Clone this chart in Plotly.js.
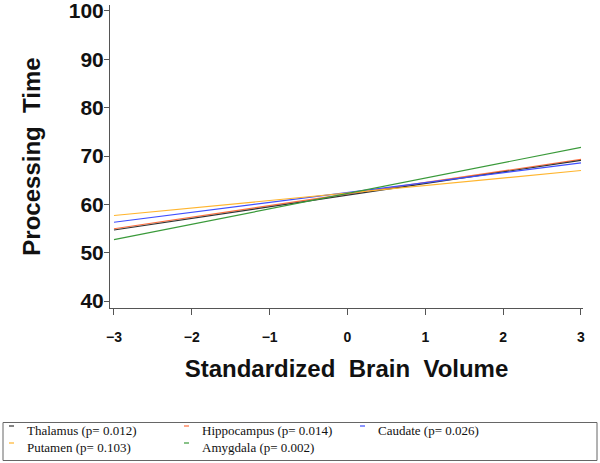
<!DOCTYPE html>
<html><head><meta charset="utf-8">
<script src="https://cdn.plot.ly/plotly-3.0.1.min.js"></script>
<style>html,body{margin:0;padding:0;background:#fff;}#chart{width:600px;height:463px;}</style>
</head><body><div id="chart"></div>
<script>
// ---- data ----
const names = ['Thalamus', 'Hippocampus', 'Caudate', 'Putamen', 'Amygdala'];
const pvals = ['0.012', '0.014', '0.026', '0.103', '0.002'];
const xVolume = [-3, 3];
const thalamus = [54.7, 69.1];
const hippocampus = [54.95, 69.3];
const caudate = [56.3, 68.6];
const putamen = [57.7, 67.0];
const amygdala = [52.7, 71.8];
const xTicks = [-3, -2, -1, 0, 1, 2, 3];
const yTicks = [40, 50, 60, 70, 80, 90, 100];

// ---- styling ----
const colors = ['#333333', '#ff7040', '#3f4fff', '#ffb52e', '#3a9a3a'];
const series = [thalamus, hippocampus, caudate, putamen, amygdala];
const drawOrder = [1, 0, 2, 3, 4];

const W = 600, H = 463;
const M = {l: 110, r: 17, t: 5, b: 155};
const pw = W - M.l - M.r, ph = H - M.t - M.b;
const px = x => (x - M.l) / pw;
const py = y => (H - M.b - y) / ph;

const traces = drawOrder.map(i => ({
  type: 'scatter', mode: 'lines', x: xVolume, y: series[i], name: names[i],
  line: {color: colors[i], width: 1.2}, showlegend: false, hoverinfo: 'skip'
}));

// custom legend (layout positions)
const legCols = [9, 184, 360];
const legRows = [430, 447];
const shapes = [{type: 'rect', xref: 'paper', yref: 'paper',
  x0: px(3), x1: px(597), y0: py(422.5), y1: py(460.5),
  line: {color: '#666', width: 1}, fillcolor: 'rgba(0,0,0,0)'}];
const annotations = [];
names.forEach((n, i) => {
  const c = legCols[i % 3], r = legRows[Math.floor(i / 3)];
  shapes.push({type: 'line', xref: 'paper', yref: 'paper',
    x0: px(c), x1: px(c + 5), y0: py(r - 4), y1: py(r - 4),
    line: {color: colors[i], width: 1.2}});
  annotations.push({xref: 'paper', yref: 'paper', x: px(c + 16), y: py(r),
    xanchor: 'left', yanchor: 'middle', showarrow: false,
    text: n + ' (p= ' + pvals[i] + ')',
    font: {family: 'Liberation Serif, DejaVu Serif, serif', size: 13, color: '#111'}});
});

const layout = {
  width: W, height: H, margin: M, paper_bgcolor: '#fff', plot_bgcolor: '#fff',
  showlegend: false,
  xaxis: {range: [-3.051, 3.026], tickvals: xTicks, ticks: 'outside', ticklen: 6,
    tickcolor: '#555', tickwidth: 1, showline: true, linecolor: '#555', linewidth: 1,
    showgrid: false, zeroline: false, ticklabelstandoff: 10,
    tickfont: {family: 'Liberation Sans, Arial, sans-serif', size: 14, color: '#111', weight: 'bold'},
    title: {text: 'Standardized\u00a0 Brain\u00a0 Volume', standoff: 16,
      font: {family: 'Liberation Sans, Arial, sans-serif', size: 24, color: '#111', weight: 'bold'}}},
  yaxis: {range: [38.56, 101.24], tickvals: yTicks, ticks: 'outside', ticklen: 5,
    tickcolor: '#555', tickwidth: 1, showline: true, linecolor: '#555', linewidth: 1,
    showgrid: false, zeroline: false, ticklabeloverflow: 'allow', ticklabelstandoff: -4,
    tickfont: {family: 'Liberation Sans, Arial, sans-serif', size: 21, color: '#111', weight: 'bold'},
    title: {text: 'Processing\u00a0 Time', standoff: 21,
      font: {family: 'Liberation Sans, Arial, sans-serif', size: 24, color: '#111', weight: 'bold'}}},
  shapes: shapes, annotations: annotations
};
Plotly.newPlot('chart', traces, layout, {displayModeBar: false, staticPlot: true});
</script></body></html>
